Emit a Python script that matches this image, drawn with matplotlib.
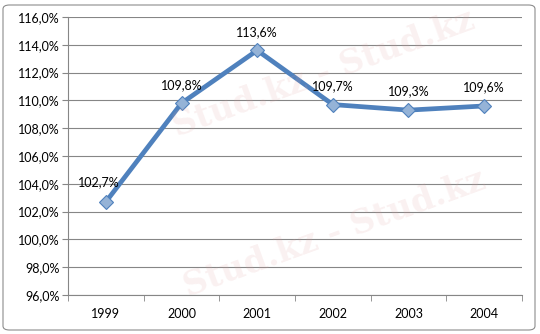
import matplotlib.pyplot as plt
from matplotlib.patches import FancyBboxPatch
from matplotlib.ticker import FuncFormatter

years = ["1999", "2000", "2001", "2002", "2003", "2004"]
growth = [102.7, 109.8, 113.6, 109.7, 109.3, 109.6]
point_labels = ["102,7%", "109,8%", "113,6%", "109,7%", "109,3%", "109,6%"]

plt.rcParams['font.family'] = ['Lato', 'DejaVu Sans']

fig = plt.figure(figsize=(5.4, 3.34), dpi=100)
ax = fig.add_axes([68 / 540, 1 - 295 / 334, 454 / 540, 278 / 334])

# rounded chart border
frame = FancyBboxPatch((3 / 540, 4 / 334), 532 / 540, 325 / 334,
                       boxstyle="round,pad=0,rounding_size=0.012",
                       transform=fig.transFigure, fill=False,
                       edgecolor="#8c8c8c", linewidth=0.8)
fig.patches.append(frame)

# faint watermark
for x, y in [(0.60, 0.78), (0.62, 0.30)]:
    fig.text(x, y, "Stud.kz - Stud.kz", fontsize=24, fontweight="bold",
             family="DejaVu Serif", color="#e0a0a0", alpha=0.15,
             rotation=20, ha="center", va="center", zorder=0)

x = list(range(len(years)))
ax.plot(x, growth, color="#4f81bd", linewidth=3.4, solid_capstyle="round",
        marker="D", markersize=7, markerfacecolor="#95b3d7",
        markeredgecolor="#4f81bd", markeredgewidth=0.8, zorder=3)

for i, (v, lab) in enumerate(zip(growth, point_labels)):
    dx, dy = (-5, 10) if i == 0 else (0, 9)
    ax.annotate(lab, (i, v), xytext=(dx, dy), textcoords="offset points",
                ha="center", va="bottom", fontsize=9, color="black")

ax.set_xlim(-0.5, len(years) - 0.5)
ax.set_ylim(96, 116)
ax.set_yticks(range(96, 117, 2))
ax.yaxis.set_major_formatter(FuncFormatter(lambda v, p: f"{v:.1f}%".replace(".", ",")))
ax.set_xticks(x)
ax.set_xticklabels(years)
ax.set_xticks([i - 0.5 for i in range(len(years) + 1)], minor=True)
ax.tick_params(axis="x", which="major", length=0, pad=9, labelsize=9)
ax.tick_params(axis="x", which="minor", length=4, color="#868686")
ax.tick_params(axis="y", length=4, color="#868686", labelsize=9, pad=2)

ax.grid(axis="y", color="#868686", linewidth=0.8)
ax.set_axisbelow(True)
for s in ["top", "right"]:
    ax.spines[s].set_visible(False)
for s in ["left", "bottom"]:
    ax.spines[s].set_color("#868686")
    ax.spines[s].set_linewidth(0.8)

fig.savefig("out.png", dpi=100)
